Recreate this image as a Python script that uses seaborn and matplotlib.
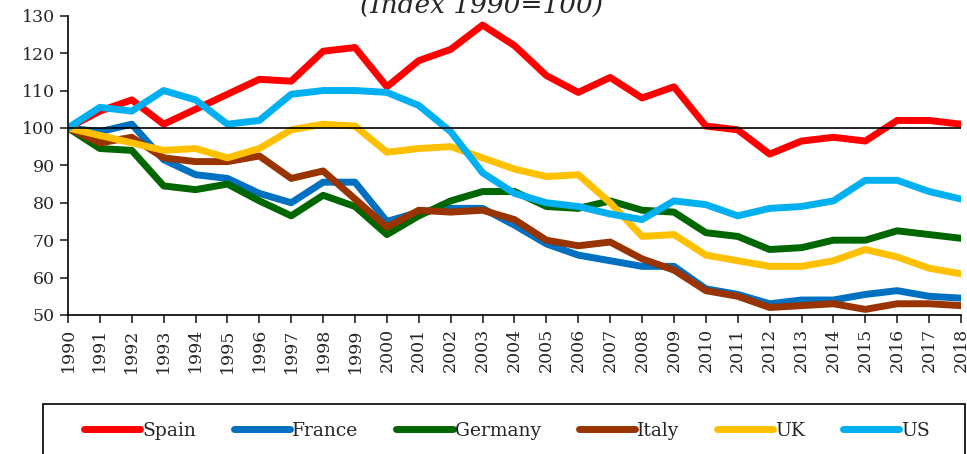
import pandas as pd
import matplotlib
matplotlib.use("Agg")
import matplotlib.pyplot as plt
from matplotlib.patches import Rectangle
import seaborn as sns

# Index values (1990 = 100)
years = list(range(1990, 2019))
spain = [100, 104.5, 107.5, 101, 105, 109, 113, 112.5, 120.5, 121.5, 111, 118, 121, 127.5, 122,
         114, 109.5, 113.5, 108, 111, 100.5, 99.5, 93, 96.5, 97.5, 96.5, 102, 102, 101]
france = [100, 99, 101, 91.5, 87.5, 86.5, 82.5, 80, 85.5, 85.5, 75, 77.5, 78.5, 78.5, 74,
          69, 66, 64.5, 63, 63, 57, 55.5, 53, 54, 54, 55.5, 56.5, 55, 54.5]
germany = [100, 94.5, 94, 84.5, 83.5, 85, 80.5, 76.5, 82, 79, 71.5, 76.5, 80.5, 83, 83,
           79, 78.5, 80.5, 78, 77.5, 72, 71, 67.5, 68, 70, 70, 72.5, 71.5, 70.5]
italy = [100, 96, 97.5, 92, 91, 91, 92.5, 86.5, 88.5, 81, 73.5, 78, 77.5, 78, 75.5,
         70, 68.5, 69.5, 65, 62, 56.5, 55, 52, 52.5, 53, 51.5, 53, 53, 52.5]
uk = [100, 98, 96, 94, 94.5, 92, 94.5, 99.5, 101, 100.5, 93.5, 94.5, 95, 92, 89,
      87, 87.5, 80, 71, 71.5, 66, 64.5, 63, 63, 64.5, 67.5, 65.5, 62.5, 61]
us = [100, 105.5, 104.5, 110, 107.5, 101, 102, 109, 110, 110, 109.5, 106, 99, 88, 82.5,
      80, 79, 77, 75.5, 80.5, 79.5, 76.5, 78.5, 79, 80.5, 86, 86, 83, 81]

countries = ["Spain", "France", "Germany", "Italy", "UK", "US"]
colors = ["#FF0000", "#0070C0", "#006600", "#993300", "#FFC000", "#00B0F0"]

df = pd.DataFrame({"year": years, "Spain": spain, "France": france, "Germany": germany,
                   "Italy": italy, "UK": uk, "US": us})
long_df = df.melt(id_vars="year", var_name="country", value_name="index")

sns.set_style("white")
plt.rcParams["font.family"] = ["DejaVu Serif"]

W, H = 967, 454
fig = plt.figure(figsize=(W / 100, H / 100), dpi=100)
ax = fig.add_axes([0.0703, 0.3062, 0.9235, 0.6592])

sns.lineplot(data=long_df, x="year", y="index", hue="country", hue_order=countries,
             palette=colors, linewidth=5, ax=ax, legend=False)
ax.axhline(100, color="black", linewidth=1.2, zorder=5)

ax.set_xlim(1990, 2018)
ax.set_ylim(50, 130)
ax.set_xticks(years)
ax.set_xticklabels([str(y) for y in years], rotation=90, fontsize=12.5)
ax.set_yticks(range(50, 131, 10))
ax.tick_params(axis="y", labelsize=12.5, length=6, width=1.2, direction="out", left=True)
ax.tick_params(axis="x", length=6, width=1.2, direction="out", bottom=True)
ax.set_xlabel("")
ax.set_ylabel("")
for side in ["top", "right"]:
    ax.spines[side].set_visible(False)
for side in ["left", "bottom"]:
    ax.spines[side].set_color("black")
    ax.spines[side].set_linewidth(1.2)

fig.text(0.498, 1 - 13 / H, "(Index 1990=100)", ha="center", va="baseline",
         fontsize=19, style="italic")

# legend frame drawn separately; it runs off the bottom of the figure
fig.patches.append(Rectangle((43 / W, -20 / H), 922 / W, (454 - 404 + 20) / H,
                             transform=fig.transFigure, fill=False,
                             edgecolor="black", linewidth=1.2))
handles = [plt.Line2D([0], [0], color=c, linewidth=5, solid_capstyle="round") for c in colors]
leg_top = 1 - 422 / H
leg = fig.legend(handles, countries, loc="upper left", ncol=6, mode="expand",
                 bbox_to_anchor=(84 / W, leg_top - 0.1, 846 / W, 0.1),
                 fontsize=13.5, frameon=False, borderpad=0, handlelength=3.0,
                 handletextpad=0.1, borderaxespad=0)

fig.savefig("out.png", dpi=100)
